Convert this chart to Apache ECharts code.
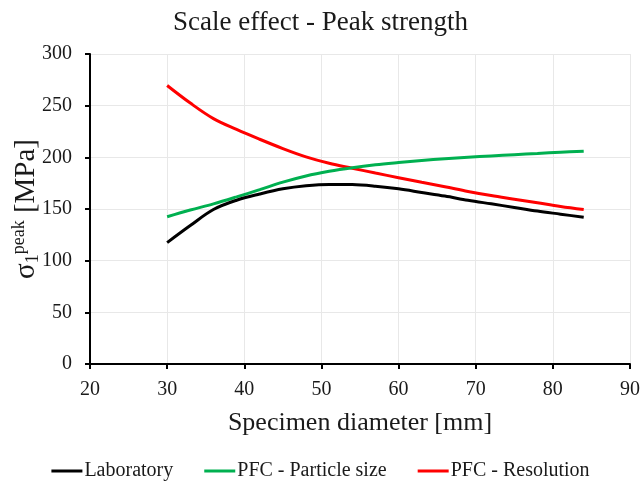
<!DOCTYPE html>
<html>
<head>
<meta charset="utf-8">
<script src="https://cdn.jsdelivr.net/npm/echarts@6/dist/echarts.min.js"></script>
<style>
html,body{margin:0;padding:0;background:#fff;}
#chart{width:641px;height:482px;}
</style>
</head>
<body>
<div id="chart"></div>
<script>
// Data (specimen diameter in mm, strength in MPa)
const diameters = [30, 33, 36, 39, 42, 45, 48, 51, 54, 57, 60, 63, 66, 69, 72, 75, 78, 81, 84];
const laboratory = [117.5, 134, 149.5, 158.5, 164.5, 169.5, 172.5, 173.8, 173.6, 172, 169.5, 166, 162.5, 158.5, 155, 151.5, 148, 145, 142];
const pfcParticleSize = [142.5, 149, 155, 161.7, 168.7, 176, 182, 186.5, 190, 192.8, 195, 197, 198.6, 200.1, 201.4, 202.6, 203.8, 205, 206];
const pfcResolution = [269.5, 252.5, 237.5, 227, 217.5, 208.5, 200.5, 194.3, 189.5, 184.8, 180.3, 175.8, 171.5, 167, 163, 159.5, 156, 152.5, 149.5];

const seriesNames = ['Laboratory', 'PFC - Particle size', 'PFC - Resolution'];
const seriesColors = ['#000000', '#00B050', '#FF0000'];

const titleText = 'Scale effect - Peak strength';
const xAxisName = 'Specimen diameter [mm]';

function pairs(xs, ys) { return xs.map((x, i) => [x, ys[i]]); }

const FONT = "'Liberation Serif', 'Times New Roman', serif";
const TXT = '#1a1a1a';
const chart = echarts.init(document.getElementById('chart'), null, {renderer: 'canvas'});

const dataSets = [laboratory, pfcParticleSize, pfcResolution].map(ys => pairs(diameters, ys));

chart.setOption({
  animation: false,
  backgroundColor: '#ffffff',
  textStyle: {fontFamily: FONT},
  title: {
    text: titleText,
    left: 'center',
    top: 4,
    textStyle: {fontFamily: FONT, fontSize: 27, fontWeight: 'normal', color: TXT}
  },
  legend: {
    bottom: -4,
    left: 'center',
    itemGap: 31,
    itemWidth: 31,
    itemHeight: 3,
    icon: 'rect',
    textStyle: {fontFamily: FONT, fontSize: 20, color: TXT, padding: [0, 0, 0, -3]},
    data: seriesNames
  },
  grid: {left: 90, right: 11, top: 54, bottom: 118, containLabel: false, outerBoundsMode: 'none'},
  xAxis: {
    type: 'value',
    min: 20, max: 90, interval: 10,
    name: xAxisName,
    nameLocation: 'middle',
    nameGap: 46,
    nameMoveOverlap: false,
    nameTextStyle: {fontFamily: FONT, fontSize: 26, color: TXT},
    axisLine: {show: true, lineStyle: {color: '#000', width: 2}},
    axisTick: {show: true, length: 5, lineStyle: {color: '#000', width: 2}},
    axisLabel: {fontFamily: FONT, fontSize: 20, color: TXT, margin: 16},
    splitLine: {show: true, lineStyle: {color: '#e8e8e8', width: 1}}
  },
  yAxis: {
    type: 'value',
    min: 0, max: 300, interval: 50,
    name: '{s|σ}{sub|1}{sup|peak}{s| [MPa]}',
    nameLocation: 'middle',
    nameRotate: 90,
    nameGap: 48,
    nameMoveOverlap: false,
    nameTextStyle: {
      fontFamily: FONT, fontSize: 29, color: TXT,
      rich: {
        s: {fontFamily: FONT, fontSize: 29, color: TXT, verticalAlign: 'middle'},
        sub: {fontFamily: FONT, fontSize: 18, color: TXT, verticalAlign: 'bottom', padding: [12, 0, 0, 0]},
        sup: {fontFamily: FONT, fontSize: 18, color: TXT, verticalAlign: 'top', padding: [0, 0, 14, 0]}
      }
    },
    axisLine: {show: true, lineStyle: {color: '#000', width: 2}},
    axisTick: {show: true, length: 5, lineStyle: {color: '#000', width: 2}},
    axisLabel: {fontFamily: FONT, fontSize: 20, color: TXT, margin: 18},
    splitLine: {show: true, lineStyle: {color: '#e8e8e8', width: 1}}
  },
  series: seriesNames.map((n, i) => ({
    name: n,
    type: 'line',
    smooth: 0.35,
    symbol: 'none',
    data: dataSets[i],
    color: seriesColors[i],
    lineStyle: {color: seriesColors[i], width: 3},
    itemStyle: {color: seriesColors[i]},
    z: 3 - i
  }))
});
</script>
</body>
</html>
